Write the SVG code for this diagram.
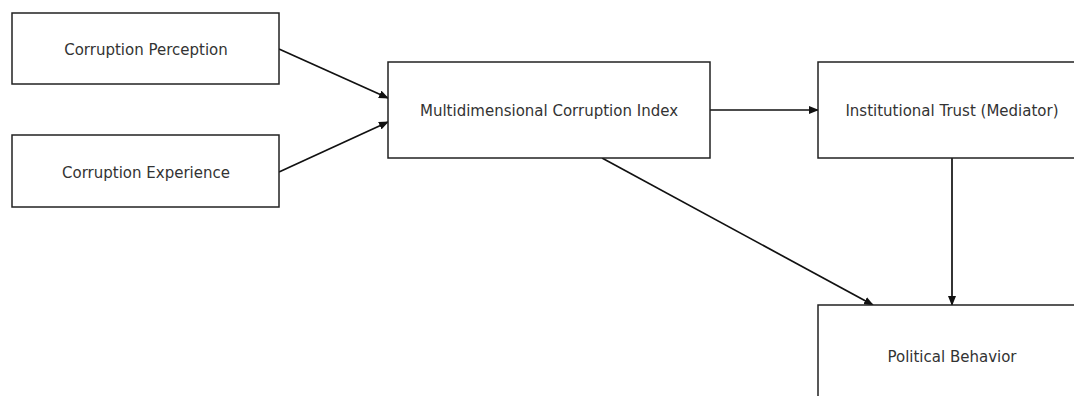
<svg xmlns="http://www.w3.org/2000/svg" width="1074" height="396" viewBox="0 0 1074 396">
<style>
.box{fill:#fff;stroke:#222;stroke-width:1.5}
.lbl{font-family:"DejaVu Sans",sans-serif;font-size:15px;fill:#333;text-anchor:middle;dominant-baseline:central}
.edge{stroke:#111;stroke-width:1.7;fill:none;marker-end:url(#ah)}
</style>
<defs>
<marker id="ah" markerWidth="10" markerHeight="8" refX="9" refY="4" orient="auto" markerUnits="userSpaceOnUse">
<path d="M0,0 L10,4 L0,8 Z" fill="#111"/>
</marker>
</defs>
<rect width="1074" height="396" fill="#fff"/>
<g id="connectors">
<line class="edge" x1="279" y1="49" x2="388" y2="98"/>
<line class="edge" x1="279" y1="172" x2="388" y2="122"/>
<line class="edge" x1="710" y1="110" x2="818" y2="110"/>
<line class="edge" x1="602" y1="158" x2="873" y2="305"/>
<line class="edge" x1="952" y1="158" x2="952" y2="305"/>
</g>
<g id="corruption-perception">
<rect class="box" x="12" y="13" width="267" height="71"/>
<text class="lbl" x="146" y="50">Corruption Perception</text>
</g>
<g id="corruption-experience">
<rect class="box" x="12" y="135" width="267" height="72"/>
<text class="lbl" x="146" y="173">Corruption Experience</text>
</g>
<g id="mci">
<rect class="box" x="388" y="62" width="322" height="96"/>
<text class="lbl" x="549" y="111">Multidimensional Corruption Index</text>
</g>
<g id="institutional-trust">
<rect class="box" x="818" y="62" width="268" height="96"/>
<text class="lbl" x="952" y="111">Institutional Trust (Mediator)</text>
</g>
<g id="political-behavior">
<rect class="box" x="818" y="305" width="268" height="96"/>
<text class="lbl" x="952" y="357">Political Behavior</text>
</g>
</svg>
